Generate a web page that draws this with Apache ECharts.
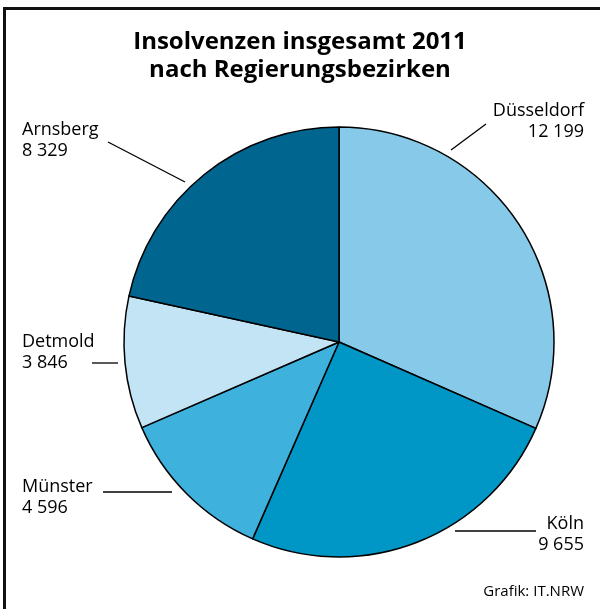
<!DOCTYPE html>
<html><head><meta charset="utf-8">
<script src="https://cdn.jsdelivr.net/npm/echarts@6/dist/echarts.min.js"></script>
<style>html,body{margin:0;padding:0;background:#fff}#c{width:600px;height:609px}</style>
</head><body><div id="c"></div>
<script>
const categories = ['Düsseldorf', 'Köln', 'Münster', 'Detmold', 'Arnsberg'];
const values = [12199, 9655, 4596, 3846, 8329];
const valueLabels = ['12 199', '9 655', '4 596', '3 846', '8 329'];
const colors = ['#86c9e9', '#0096c5', '#3eb1dc', '#c3e4f5', '#00668f'];

// label placement (text anchor, alignment, leader line)
const labelPos = [
  {x: 584, y: 100, align: 'right', line: [[486, 124], [451, 150]]},
  {x: 584, y: 513, align: 'right', line: [[536, 531], [455, 531]]},
  {x: 22, y: 476, align: 'left', line: [[103, 492], [172, 492]]},
  {x: 22, y: 331, align: 'left', line: [[92, 363], [118, 363]]},
  {x: 22, y: 119, align: 'left', line: [[108, 142], [185, 182]]}
];

const FONT = '"Open Sans", "Noto Sans", sans-serif';
const labelGraphics = [];
categories.forEach((c, i) => {
  const lp = labelPos[i];
  labelGraphics.push({
    type: 'text', x: lp.x, y: lp.y,
    style: {text: c + '\n' + valueLabels[i], font: '18px ' + FONT, fill: '#000',
            align: lp.align, verticalAlign: 'top', lineHeight: 21}
  });
  labelGraphics.push({
    type: 'polyline', shape: {points: lp.line},
    style: {stroke: '#000', lineWidth: 1.3, fill: null}
  });
});

const chart = echarts.init(document.getElementById('c'), null, {renderer: 'canvas'});
chart.setOption({
  animation: false,
  title: {
    text: 'Insolvenzen insgesamt 2011\nnach Regierungsbezirken',
    left: 'center', top: 23,
    textStyle: {fontFamily: FONT, fontWeight: 'bold', fontSize: 24, color: '#000', lineHeight: 28}
  },
  graphic: [
    {type: 'polyline', shape: {points: [[4.5, 640], [4.5, 8.5], [640, 8.5]]}, style: {stroke: '#111', lineWidth: 3, fill: null}},
    {type: 'text', x: 584, y: 584, style: {text: 'Grafik: IT.NRW', font: '15px ' + FONT, fill: '#000', align: 'right', verticalAlign: 'top'}}
  ].concat(labelGraphics),
  series: [{
    type: 'pie',
    center: [339, 342],
    radius: [0, 215],
    startAngle: 90,
    clockwise: true,
    data: categories.map((c, i) => ({name: c, value: values[i], itemStyle: {color: colors[i]}})),
    itemStyle: {borderColor: '#000', borderWidth: 1.5},
    label: {show: false},
    labelLine: {show: false},
    emphasis: {disabled: true}
  }]
});
</script></body></html>
